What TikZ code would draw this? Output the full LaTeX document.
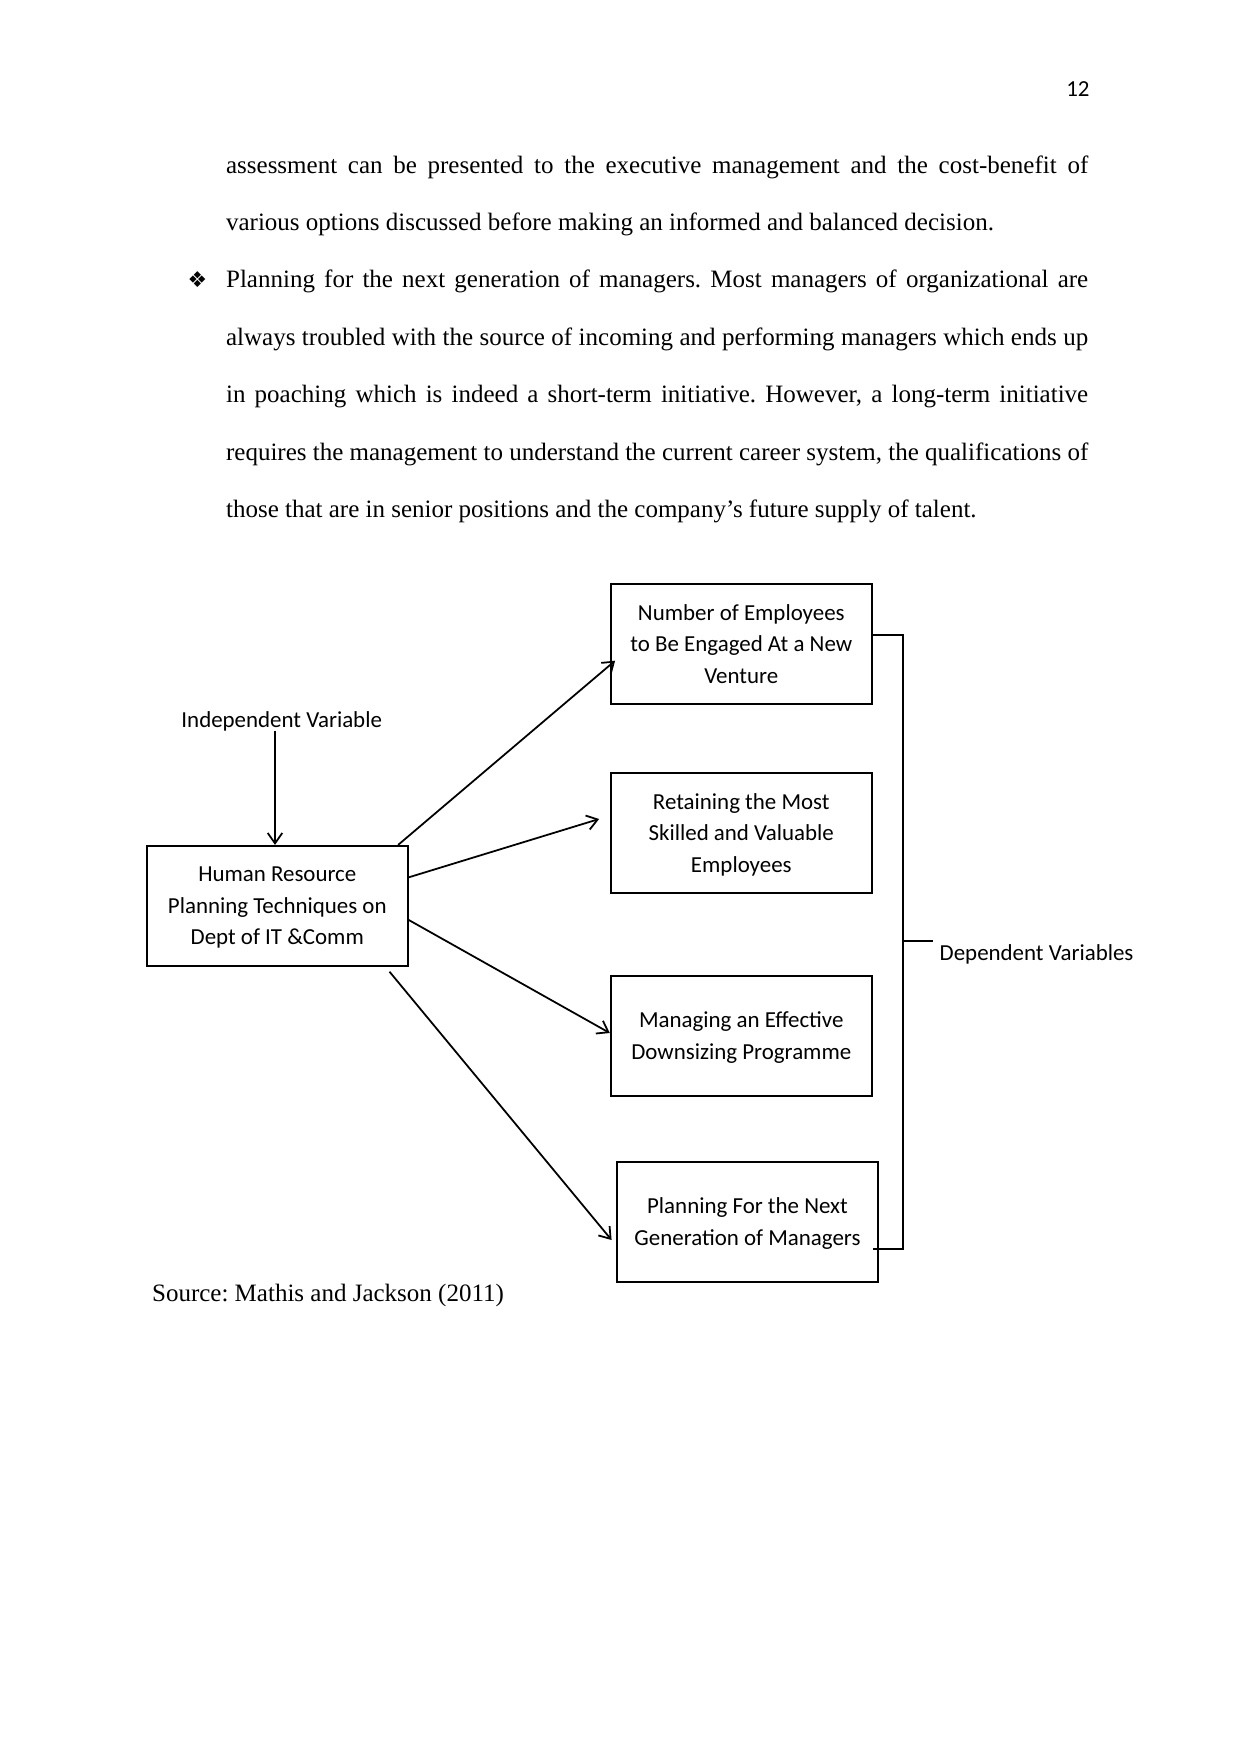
\documentclass[tikz,border=0pt]{standalone}
\usepackage{fontspec}
\setmainfont{Liberation Serif}
\newfontfamily\calfont{Carlito}
\newfontfamily\symfont{DejaVu Sans}
\usetikzlibrary{arrows.meta,calc}
\newcommand{\nodepth}[1]{\raisebox{0pt}[\height][0pt]{#1}}
\begin{document}
\frenchspacing
\begin{tikzpicture}[x=0.48pt,y=-0.48pt,
  boxnode/.style={draw, line width=0.85pt, minimum width=125.4pt, minimum height=57.6pt,
    inner sep=0pt, align=center, font=\calfont\fontsize{11pt}{15.2pt}\selectfont},
  lbl/.style={inner sep=0pt, font=\calfont\fontsize{11pt}{13.4pt}\selectfont},
  body/.style={anchor=base west, inner sep=0pt, font=\fontsize{12pt}{14pt}\selectfont},
  arr/.style={line width=0.85pt, -{Straight Barb[length=5pt,width=7pt]}},
  brk/.style={line width=0.85pt}]
\fill[white] (0,0) rectangle (1241,1754);
\useasboundingbox (0,0) rectangle (1241,1754);

% page number
\node[lbl, anchor=base east] (pn) at (1090,96) {12};

% body text
\node[body] (l1) at (225.7,173.3) {\makebox[413.8pt][s]{assessment can be presented to the executive management and the cost-benefit of}};
\node[body] (l2) at (225.7,230.5) {various options discussed before making an informed and balanced decision.};
\node[anchor=base, inner sep=0pt, font=\symfont\fontsize{10.5pt}{12pt}\selectfont] (bul) at (197.5,287.6) {❖};
\node[body] (l3) at (225.7,287.6) {\makebox[413.8pt][s]{Planning for the next generation of managers. Most managers of organizational are}};
\node[body] (l4) at (225.7,345) {\makebox[413.8pt][s]{always troubled with the source of incoming and performing managers which ends up}};
\node[body] (l5) at (225.7,402.5) {\makebox[413.8pt][s]{in poaching which is indeed a short-term initiative. However, a long-term initiative}};
\node[body] (l6) at (225.7,460) {\makebox[413.8pt][s]{requires the management to understand the current career system, the qualifications of}};
\node[body] (l7) at (225.7,517.5) {those that are in senior positions and the company’s future supply of talent.};

% diagram
\node[boxnode] (hr) at (277.3,905.8) {Human Resource\\Planning Techniques on\\\nodepth{Dept of IT \&Comm}};
\node[boxnode] (b1) at (741.3,643.9) {Number of Employees\\to Be Engaged At a New\\\nodepth{Venture}};
\node[boxnode] (b2) at (741.3,832.7) {Retaining the Most\\Skilled and Valuable\\\nodepth{Employees}};
\node[boxnode] (b3) at (741.3,1035.7) {Managing an Effective\\\nodepth{Downsizing Programme}};
\node[boxnode] (b4) at (747.5,1221.7) {Planning For the Next\\\nodepth{Generation of Managers}};

\node[lbl, anchor=base] (iv) at (281.7,727.3) {Independent Variable};
\node[lbl, anchor=base west] (dv) at (939.3,960.7) {Dependent Variables};

\draw[arr] (iv.south -| 275,0) -- (hr.north -| 275,0);
\draw[arr] ($(hr.north east)+(-10.7,0)$) -- ($(b1.west)+(5.3,16.8)$);
\draw[arr] ($(hr.east)+(0,-28.5)$) -- ($(b2.west)+(-10.7,-13.7)$);
\draw[arr] ($(hr.east)+(0,14.2)$) -- ($(b3.west)+(0,-2.7)$);
\draw[arr] ($(hr.south east)+(-19.3,5)$) -- ($(b4.west)+(-4.4,18.3)$);

% bracket
\coordinate (brtop) at (903,635);
\coordinate (brbot) at (903,1249);
\coordinate (brmid) at (903,941);
\draw[brk] (b1.east |- brtop) -- (brtop) -- (brbot) -- ($(b4.east |- brbot)+(-6,0)$);
\draw[brk] (brmid) -- ($(brmid)+(30,0)$);

% source
\node[body] (src) at (151.7,1301.7) {Source: Mathis and Jackson (2011)};
\end{tikzpicture}
\end{document}
